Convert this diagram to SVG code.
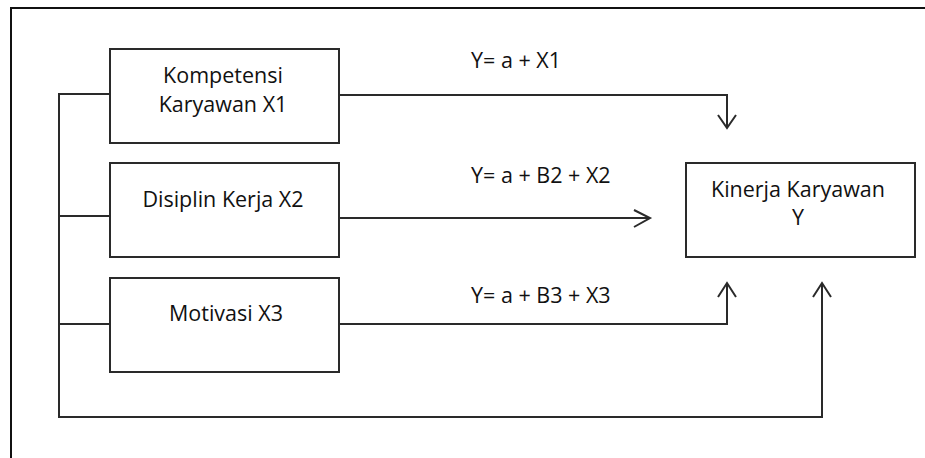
<svg xmlns="http://www.w3.org/2000/svg" width="925" height="458" viewBox="0 0 925 458">
<style>
.box{fill:#fff;stroke:#2a2a2a;stroke-width:2}
.ln{fill:none;stroke:#2a2a2a;stroke-width:2}
.fr{fill:none;stroke:#111;stroke-width:2}
text{font-family:"Open Sans","Liberation Sans",sans-serif;font-size:21.5px;fill:#111}
.c{text-anchor:middle}
</style>
<rect width="925" height="458" fill="#fff"/>
<path class="fr" d="M11,458 V8 H925"/>
<g id="node-x1">
<rect class="box" x="110" y="49" width="229" height="94"/>
<text class="c" x="223" y="83">Kompetensi</text>
<text class="c" x="223" y="112">Karyawan X1</text>
</g>
<g id="node-x2">
<rect class="box" x="110" y="163" width="229" height="94"/>
<text class="c" x="223" y="207">Disiplin Kerja X2</text>
</g>
<g id="node-x3">
<rect class="box" x="110" y="278" width="229" height="94"/>
<text class="c" x="226" y="321">Motivasi X3</text>
</g>
<g id="node-y">
<rect class="box" x="686" y="163" width="229" height="94"/>
<text class="c" x="798" y="197">Kinerja Karyawan</text>
<text class="c" x="798" y="225">Y</text>
</g>
<g id="connectors">
<path class="ln" d="M110,94 H59 V417 H822 V283"/>
<path class="ln" d="M59,216 H110 M59,324 H110"/>
<path class="ln" d="M813,297 L822,283 L831,297"/>
<path class="ln" d="M339,95 H727 V128"/>
<path class="ln" d="M718,115 L727,128 L736,115"/>
<path class="ln" d="M339,218 H650"/>
<path class="ln" d="M634,210 L650,218 L634,227"/>
<path class="ln" d="M339,324 H727 V283"/>
<path class="ln" d="M718,297 L727,283 L736,297"/>
<text x="471" y="68">Y= a + X1</text>
<text x="471" y="183">Y= a + B2 + X2</text>
<text x="471" y="303">Y= a + B3 + X3</text>
</g>
</svg>
